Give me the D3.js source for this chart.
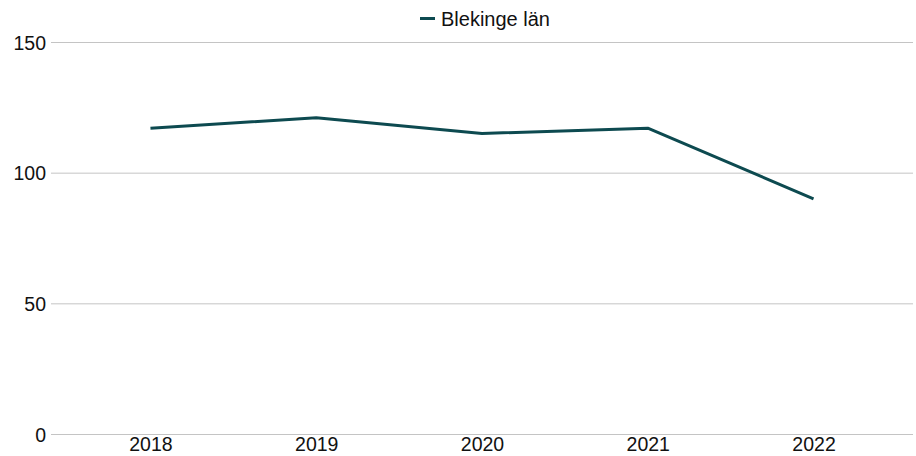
<!DOCTYPE html>
<html><head><meta charset="utf-8">
<script src="https://cdn.jsdelivr.net/npm/d3@7"></script>
<style>
html,body{margin:0;padding:0;background:#fff;}
svg{display:block;font-family:"Liberation Sans",Arial,sans-serif;}
</style></head>
<body>
<svg id="c" width="916" height="456"></svg>
<script>
const categories = ["2018","2019","2020","2021","2022"];
const values = [117, 121, 115, 117, 90];
const seriesName = "Blekinge län";
const yTicks = [0, 50, 100, 150];

(function () {
const svg = d3.select("#c");
const mLeft = 51, mRight = 913, mTop = 42, mBottom = 434;
const color = "#0d4a50";

const x = d3.scalePoint().domain(categories).range([mLeft, mRight]).padding(0.6);
const y = d3.scaleLinear().domain([0, 150]).range([mBottom, mTop]);

// gridlines + y labels
const yAxis = d3.axisLeft(y).tickValues(yTicks).tickSize(-(mRight - mLeft)).tickPadding(5);
const gy = svg.append("g").attr("transform", `translate(${mLeft},0)`).call(yAxis);
gy.select(".domain").remove();
gy.selectAll(".tick line").attr("stroke", "#c4c4c4").attr("stroke-width", 1);
gy.selectAll(".tick text").attr("fill", "#111").style("font-size", "19.5px")
  .style("font-family", "Liberation Sans, Arial, sans-serif").attr("dy", "0.36em");

// x labels
const xAxis = d3.axisBottom(x).tickSize(0).tickPadding(3);
const gx = svg.append("g").attr("transform", `translate(0,${mBottom})`).call(xAxis);
gx.select(".domain").remove();
gx.selectAll(".tick text").attr("fill", "#111").style("font-size", "19.5px")
  .style("font-family", "Liberation Sans, Arial, sans-serif");

// line
const line = d3.line().x((d, i) => x(categories[i])).y(d => y(d));
svg.append("path").datum(values).attr("d", line).attr("fill", "none")
  .attr("stroke", color).attr("stroke-width", 3).attr("stroke-linejoin", "round").attr("stroke-linecap", "butt");

// legend
const lg = svg.append("g");
lg.append("line").attr("x1", 420).attr("x2", 435).attr("y1", 18.5).attr("y2", 18.5)
  .attr("stroke", color).attr("stroke-width", 3);
lg.append("text").attr("x", 441).attr("y", 25.5).text(seriesName)
  .attr("fill", "#111").style("font-size", "20px");
})();
</script>
</body></html>
